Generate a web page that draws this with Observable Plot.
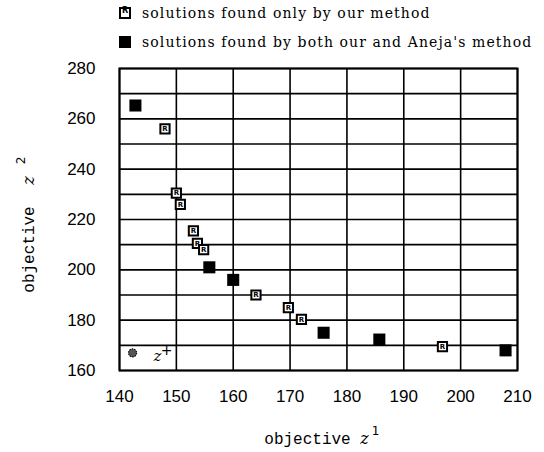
<!DOCTYPE html>
<html>
<head>
<meta charset="utf-8">
<script src="https://cdn.jsdelivr.net/npm/d3@7"></script>
<script src="https://cdn.jsdelivr.net/npm/@observablehq/plot@0.6"></script>
<style>
  body { margin: 0; background: #fff; }
  #legend { position: relative; width: 544px; height: 56px; font-family: "DejaVu Serif", serif; font-size: 14px; letter-spacing: 1.1px; color: #000; }
  .item { position: absolute; left: 119px; height: 18px; display: flex; align-items: center; white-space: nowrap; }
  .sw { width: 12px; height: 12px; margin-right: 11px; box-sizing: border-box; position: relative; flex: none; }
  .sw.only { background: #fff; border: 2px solid #000; }
  .sw.only::after { content: "R"; position: absolute; left: 1px; top: -3px; font: bold 8px "DejaVu Sans"; letter-spacing: 0; }
  .sw.both { background: #000; }
</style>
</head>
<body>
<div id="legend"></div>
<div id="chart"></div>
<script>
// Data
const legendLabels = ["solutions found only by our method", "solutions found by both our and Aneja's method"];
const onlyX = [148, 150, 150.7, 153, 153.7, 154.8, 164, 169.7, 172, 196.8];
const onlyY = [256, 230.5, 226, 215.5, 210.5, 208, 190, 185, 180.3, 169.5];
const bothX = [142.8, 155.8, 160, 175.9, 185.7, 207.9];
const bothY = [265.3, 201, 196, 175, 172.3, 168];
const idealX = [142.3];
const idealY = [167];
const idealLabel = ["z"];
const xTicks = [140, 150, 160, 170, 180, 190, 200, 210];
const yTicks = [160, 180, 200, 220, 240, 260, 280];
const xGrid = [140, 150, 160, 170, 180, 190, 200, 210];
const yGrid = [160, 170, 180, 190, 200, 210, 220, 230, 240, 250, 260, 270, 280];
const xLabel = ["objective", "z", "1"];
const yLabel = ["objective", "z", "2"];

const only = onlyX.map((x, i) => ({x, y: onlyY[i]}));
const both = bothX.map((x, i) => ({x, y: bothY[i]}));
const ideal = idealX.map((x, i) => ({x, y: idealY[i], label: idealLabel[i]}));

// Legend (HTML, above the SVG)
const leg = document.getElementById("legend");
legendLabels.forEach((t, i) => {
  const d = document.createElement("div");
  d.className = "item";
  d.style.top = (4 + i * 29) + "px";
  const s = document.createElement("span");
  s.className = "sw " + (i === 0 ? "only" : "both");
  d.appendChild(s);
  d.appendChild(document.createTextNode(t));
  leg.appendChild(d);
});

const chart = Plot.plot({
  width: 544,
  height: 396,
  marginTop: 12,
  marginBottom: 82,
  marginLeft: 119,
  marginRight: 27,
  style: {background: "#fff", color: "#000"},
  x: {domain: [140, 210]},
  y: {domain: [160, 280]},
  marks: [
    Plot.gridX(xGrid, {stroke: "#000", strokeOpacity: 1, strokeWidth: 1.6}),
    Plot.gridY(yGrid, {stroke: "#000", strokeOpacity: 1, strokeWidth: 1.6}),
    Plot.frame({stroke: "#000", strokeWidth: 2}),
    Plot.axisX(xTicks, {tickSize: 0, tickPadding: 19, fontSize: 17, fontFamily: "Liberation Sans", label: null}),
    Plot.axisY(yTicks, {tickSize: 0, tickPadding: 24, fontSize: 17, fontFamily: "Liberation Sans", label: null}),
    // x axis title
    Plot.text([xLabel[0]], {frameAnchor: "bottom", lineAnchor: "middle", dy: 68, dx: -11, fontFamily: "Liberation Mono", fontSize: 16}),
    Plot.text([xLabel[1]], {frameAnchor: "bottom", lineAnchor: "middle", dy: 68, dx: 46, fontFamily: "DejaVu Serif", fontStyle: "italic", fontSize: 16}),
    Plot.text([xLabel[2]], {frameAnchor: "bottom", lineAnchor: "middle", dy: 61, dx: 57, fontFamily: "DejaVu Sans", fontSize: 12}),
    // y axis title
    Plot.text([yLabel[0]], {frameAnchor: "left", textAnchor: "middle", lineAnchor: "middle", dx: -91, dy: 30, rotate: -90, fontFamily: "Liberation Mono", fontSize: 16}),
    Plot.text([yLabel[1]], {frameAnchor: "left", textAnchor: "middle", lineAnchor: "middle", dx: -91, dy: -39, rotate: -90, fontFamily: "DejaVu Serif", fontStyle: "italic", fontSize: 16}),
    Plot.text([yLabel[2]], {frameAnchor: "left", textAnchor: "middle", lineAnchor: "middle", dx: -98, dy: -59, rotate: -90, fontFamily: "DejaVu Sans", fontSize: 12}),
    // ideal point z+
    Plot.dot(ideal, {x: "x", y: "y", r: 4, fill: "#555", stroke: "#000", strokeWidth: 1.2, strokeDasharray: "1.5,1"}),
    Plot.text(ideal, {x: "x", y: "y", text: "label", dx: 25, dy: 3, fontFamily: "DejaVu Serif", fontStyle: "italic", fontSize: 15}),
    Plot.text(ideal, {x: "x", y: "y", text: () => "+", dx: 34, dy: -2, fontFamily: "DejaVu Sans", fontSize: 14, fill: "#000"}),
    // solutions found by both
    Plot.dot(both, {x: "x", y: "y", symbol: "square", r: 6.8, fill: "#000", stroke: "none"}),
    // solutions found only by our method
    Plot.dot(only, {x: "x", y: "y", symbol: "square", r: 5.2, fill: "#fff", stroke: "#000", strokeWidth: 2}),
    Plot.text(only, {x: "x", y: "y", text: () => "R", fontFamily: "DejaVu Sans", fontWeight: "bold", fontSize: 7, fill: "#000"})
  ]
});
document.getElementById("chart").appendChild(chart);
</script>
</body>
</html>
